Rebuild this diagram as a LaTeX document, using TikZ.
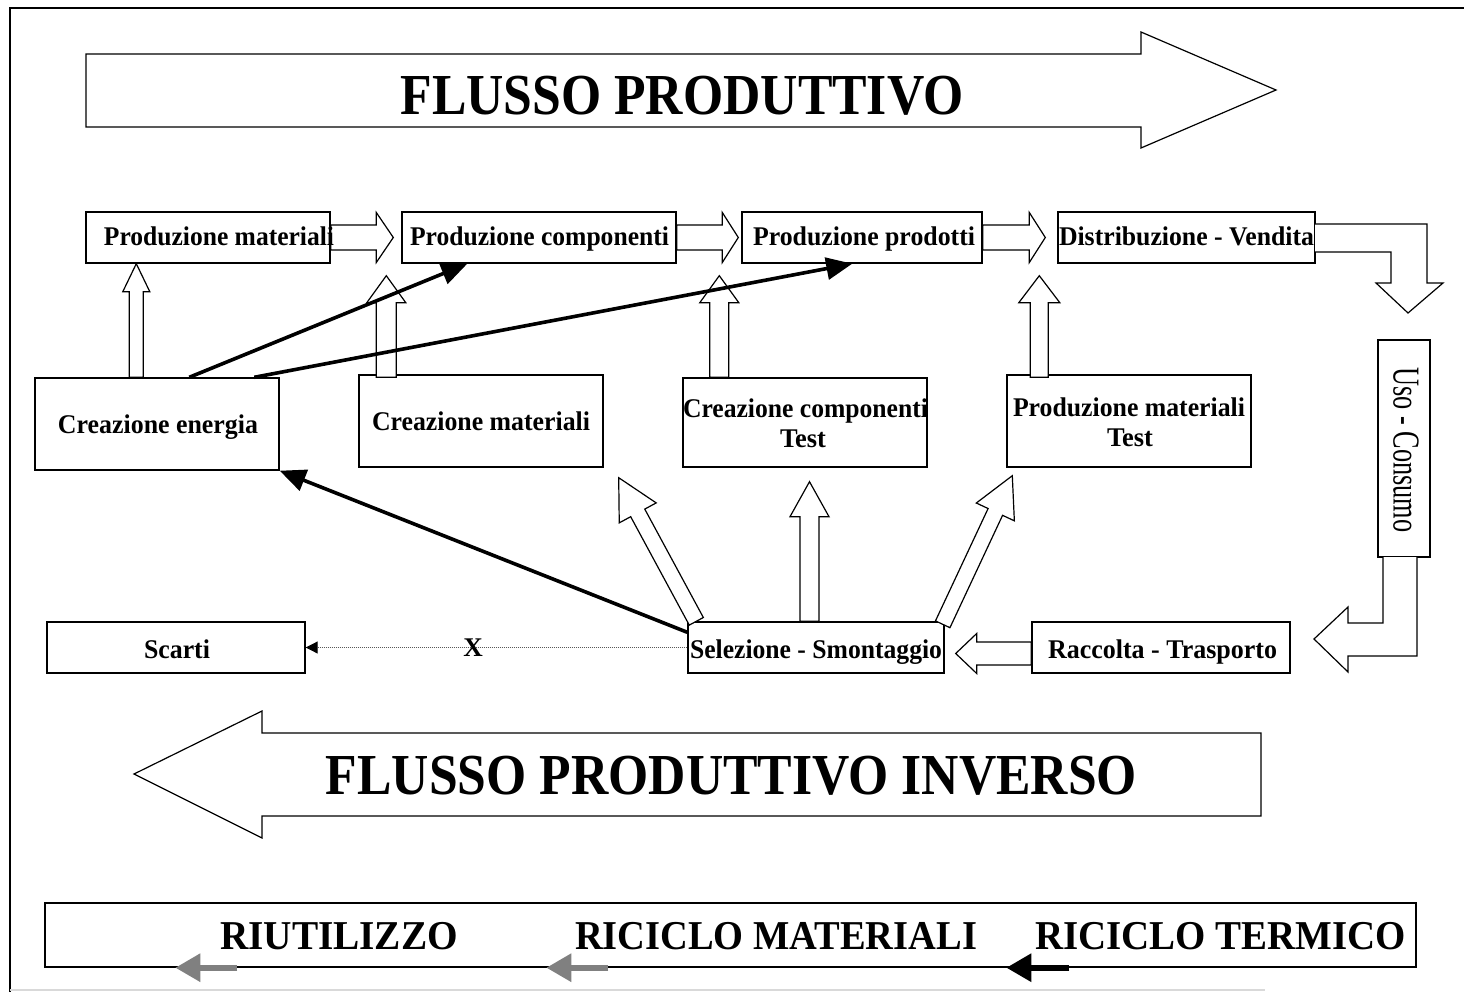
\documentclass[tikz,border=0pt]{standalone}
\usepackage{fontspec}
\setmainfont{Liberation Serif}
\usetikzlibrary{calc,arrows.meta}

% squeeze a label to a given width, keeping its height
\newcommand\fitw[2]{\resizebox{#1}{\height}{#2}}

% hollow block arrow: tail, tip, shaft half-width, head half-width, head length
\newcommand\blockarrow[5]{%
  \coordinate (ba-h) at ($(#2)!#5!(#1)$);
  \draw[barrow] ($(#1)!#3!90:(#2)$) -- ($(ba-h)!#3!90:(#2)$) -- ($(ba-h)!#4!90:(#2)$)
    -- (#2) -- ($(ba-h)!#4!-90:(#2)$) -- ($(ba-h)!#3!-90:(#2)$) -- ($(#1)!#3!-90:(#2)$) -- cycle;
}

\tikzset{
  box/.style={draw, line width=1.4pt, fill=white, inner sep=0pt},
  lbl/.style={anchor=base, inner sep=0pt, font=\bfseries\fontsize{27}{32}\selectfont},
  big/.style={anchor=base, inner sep=0pt, font=\bfseries\fontsize{58}{64}\selectfont},
  kind/.style={anchor=base, inner sep=0pt, font=\bfseries\fontsize{41}{46}\selectfont},
  barrow/.style={draw, line width=1.2pt, fill=white, line join=miter},
  bigarrow/.style={draw, line width=1.2pt, fill=white},
  feed/.style={line width=3.6pt, -{Triangle[length=26pt,width=22pt]}},
  waste/.style={densely dotted, line width=1pt, black!65, -{Triangle[length=12pt,width=12pt,color=black]}},
  recov/.style={line width=6pt, -{Triangle[length=25pt,width=27pt]}},
}

\begin{document}
\begin{tikzpicture}[x=1pt,y=-1pt]
\useasboundingbox (0,0) rectangle (1464,992);

% frame
\draw[line width=2pt] (10,992) -- (10,8) -- (1464,8);
\draw[black!15, line width=2pt] (10,990) -- (1265,990);

% forward flow banner
\draw[bigarrow] (86,54) -- (1141,54) -- (1141,32) -- (1276,90) -- (1141,148) -- (1141,127) -- (86,127) -- cycle;
\node[big] (fwd) at (682,115) {\fitw{563pt}{FLUSSO PRODUTTIVO}};

% production chain
\node[box, minimum width=244pt, minimum height=51pt] (pm) at (208,237.5) {};
\node[box, minimum width=274pt, minimum height=51pt] (pc) at (539,237.5) {};
\node[box, minimum width=240pt, minimum height=51pt] (pp) at (862,237.5) {};
\node[box, minimum width=257pt, minimum height=51pt] (dv) at (1186.5,237.5) {};

% second row
\node[box, minimum width=244pt, minimum height=92pt] (ce) at (157,424) {};
\node[box, minimum width=244pt, minimum height=92pt] (cm) at (481,421) {};
\node[box, minimum width=244pt, minimum height=89pt] (cc) at (805,422.5) {};
\node[box, minimum width=244pt, minimum height=92pt] (pt) at (1129,421) {};
\node[box, minimum width=52pt, minimum height=217pt] (uc) at (1404,448.5) {};

% third row
\node[box, minimum width=258pt, minimum height=51pt] (sc) at (176,647.5) {};
\node[box, minimum width=256pt, minimum height=51pt] (ss) at (816,647.5) {};
\node[box, minimum width=258pt, minimum height=51pt] (rt) at (1161,647.5) {};

% hollow arrows along the chain
\coordinate (t1) at ($(pc.west)+(-8,0)$);
\coordinate (t2) at ($(pp.west)+(-3,0)$);
\coordinate (t3) at ($(dv.west)+(-12,0)$);
\blockarrow{pm.east}{t1}{12.5pt}{25pt}{17pt}
\blockarrow{pc.east}{t2}{12.5pt}{25pt}{16pt}
\blockarrow{pp.east}{t3}{12.5pt}{25pt}{16pt}

% hollow arrows from the second row upwards
\coordinate (a1) at ($(ce.north west)+(102,0)$);
\coordinate (b1) at (a1 |- pm.south);
\blockarrow{a1}{b1}{7pt}{13.5pt}{28pt}
\coordinate (a2) at ($(cm.north west)+(28,3)$);
\coordinate (b2) at ($(a2 |- pc.south)+(0,12)$);
\blockarrow{a2}{b2}{10pt}{19.5pt}{27pt}
\coordinate (a3) at ($(cc.north west)+(37,0)$);
\coordinate (b3) at ($(a3 |- pp.south)+(0,12)$);
\blockarrow{a3}{b3}{9.5pt}{19.5pt}{27pt}
\coordinate (a4) at ($(pt.north west)+(33,3)$);
\coordinate (b4) at ($(a4 |- dv.south)+(0,12)$);
\blockarrow{a4}{b4}{9pt}{20.5pt}{27pt}

% hollow arrows from the selection stage
\coordinate (s1) at ($(ss.north west)+(9,0)$);
\coordinate (e1) at ($(cm.south east)+(15,10)$);
\blockarrow{s1}{e1}{8pt}{21pt}{40pt}
\coordinate (s2) at ($(ss.north)+(-6.5,0)$);
\coordinate (e2) at ($(s2 |- cc.south)+(0,14)$);
\blockarrow{s2}{e2}{9.5pt}{19.5pt}{35pt}
\coordinate (s3) at ($(ss.north east)+(-2,3)$);
\coordinate (e3) at ($(pt.south west)+(6,8)$);
\blockarrow{s3}{e3}{8pt}{21pt}{40pt}

% hollow arrow from collection to selection
\coordinate (t4) at ($(ss.east)+(11,6)$);
\coordinate (r4) at ($(rt.west)+(0,6)$);
\blockarrow{r4}{t4}{11.5pt}{20pt}{21pt}

% bent arrows around the consumer stage
\draw[barrow] (1315,224) -- (1427,224) -- (1427,283) -- (1443,283) -- (1408,313)
  -- (1376,283) -- (1391,283) -- (1391,252) -- (1315,252);
\draw[barrow] (1383,557) -- (1383,623) -- (1348,623) -- (1348,607) -- (1314,639)
  -- (1348,672) -- (1348,656) -- (1417,656) -- (1417,557);

% energy feeds
\draw[feed] ($(ce.north west)+(155,0)$) -- ($(pc.south west)+(66,0)$);
\draw[feed] ($(ce.north west)+(220,0)$) -- ($(pp.south west)+(111,0)$);
\draw[feed] ($(ss.north west)+(0,11)$) -- (ce.south east);

% discarded material
\draw[waste] (ss.west) -- (sc.east) node[pos=0.561, inner sep=0pt, text=black, font=\bfseries\fontsize{27}{30}\selectfont] (xx) {X};

% labels
\node[lbl] (lpm) at (219,246) {\fitw{230pt}{Produzione materiali}};
\node[lbl] (lpc) at (539.5,246) {\fitw{259pt}{Produzione componenti}};
\node[lbl] (lpp) at (864,246) {\fitw{222pt}{Produzione prodotti}};
\node[lbl] (ldv) at (1186.5,246) {\fitw{255pt}{Distribuzione - Vendita}};
\node[lbl] (lce) at (158,433) {\fitw{200pt}{Creazione energia}};
\node[lbl] (lcm) at (481,430) {\fitw{218pt}{Creazione materiali}};
\node[lbl] (lcc) at (805.5,417) {\fitw{245pt}{Creazione componenti}};
\node[lbl] (lcc2) at (803,447) {\fitw{46pt}{Test}};
\node[lbl] (lpt) at (1129,416) {\fitw{232pt}{Produzione materiali}};
\node[lbl] (lpt2) at (1130,446) {\fitw{46pt}{Test}};
\node[lbl] (lsc) at (177,658) {\fitw{66pt}{Scarti}};
\node[lbl] (lss) at (816,658) {\fitw{252pt}{Selezione - Smontaggio}};
\node[lbl] (lrt) at (1162.5,658) {\fitw{229pt}{Raccolta - Trasporto}};
\node[inner sep=0pt, rotate=-90, font=\fontsize{38}{42}\selectfont] (luc) at (1406,450) {\fitw{165pt}{Uso - Consumo}};

% reverse flow banner
\draw[bigarrow] (1261,733) -- (262,733) -- (262,711) -- (134,774) -- (262,838) -- (262,816) -- (1261,816) -- cycle;
\node[big] (rev) at (731.5,794) {\fitw{811pt}{FLUSSO PRODUTTIVO INVERSO}};

% recovery options
\node[draw, line width=1.4pt, minimum width=1371pt, minimum height=64pt, inner sep=0pt] (rec) at (730.5,935) {};
\node[kind] (k1) at (339,949) {\fitw{238pt}{RIUTILIZZO}};
\node[kind] (k2) at (776,949) {\fitw{402pt}{RICICLO MATERIALI}};
\node[kind] (k3) at (1220.5,949) {\fitw{371pt}{RICICLO TERMICO}};
\coordinate (g1a) at ($(rec.south west)+(193,0)$);
\coordinate (g1b) at ($(rec.south west)+(131,0)$);
\coordinate (g2a) at ($(rec.south west)+(564,0)$);
\coordinate (g2b) at ($(rec.south west)+(502,0)$);
\coordinate (g3a) at ($(rec.south west)+(1025,0)$);
\coordinate (g3b) at ($(rec.south west)+(962,0)$);
\draw[recov, gray] (g1a) -- (g1b);
\draw[recov, gray] (g2a) -- (g2b);
\draw[recov, black] (g3a) -- (g3b);
\end{tikzpicture}
\end{document}
